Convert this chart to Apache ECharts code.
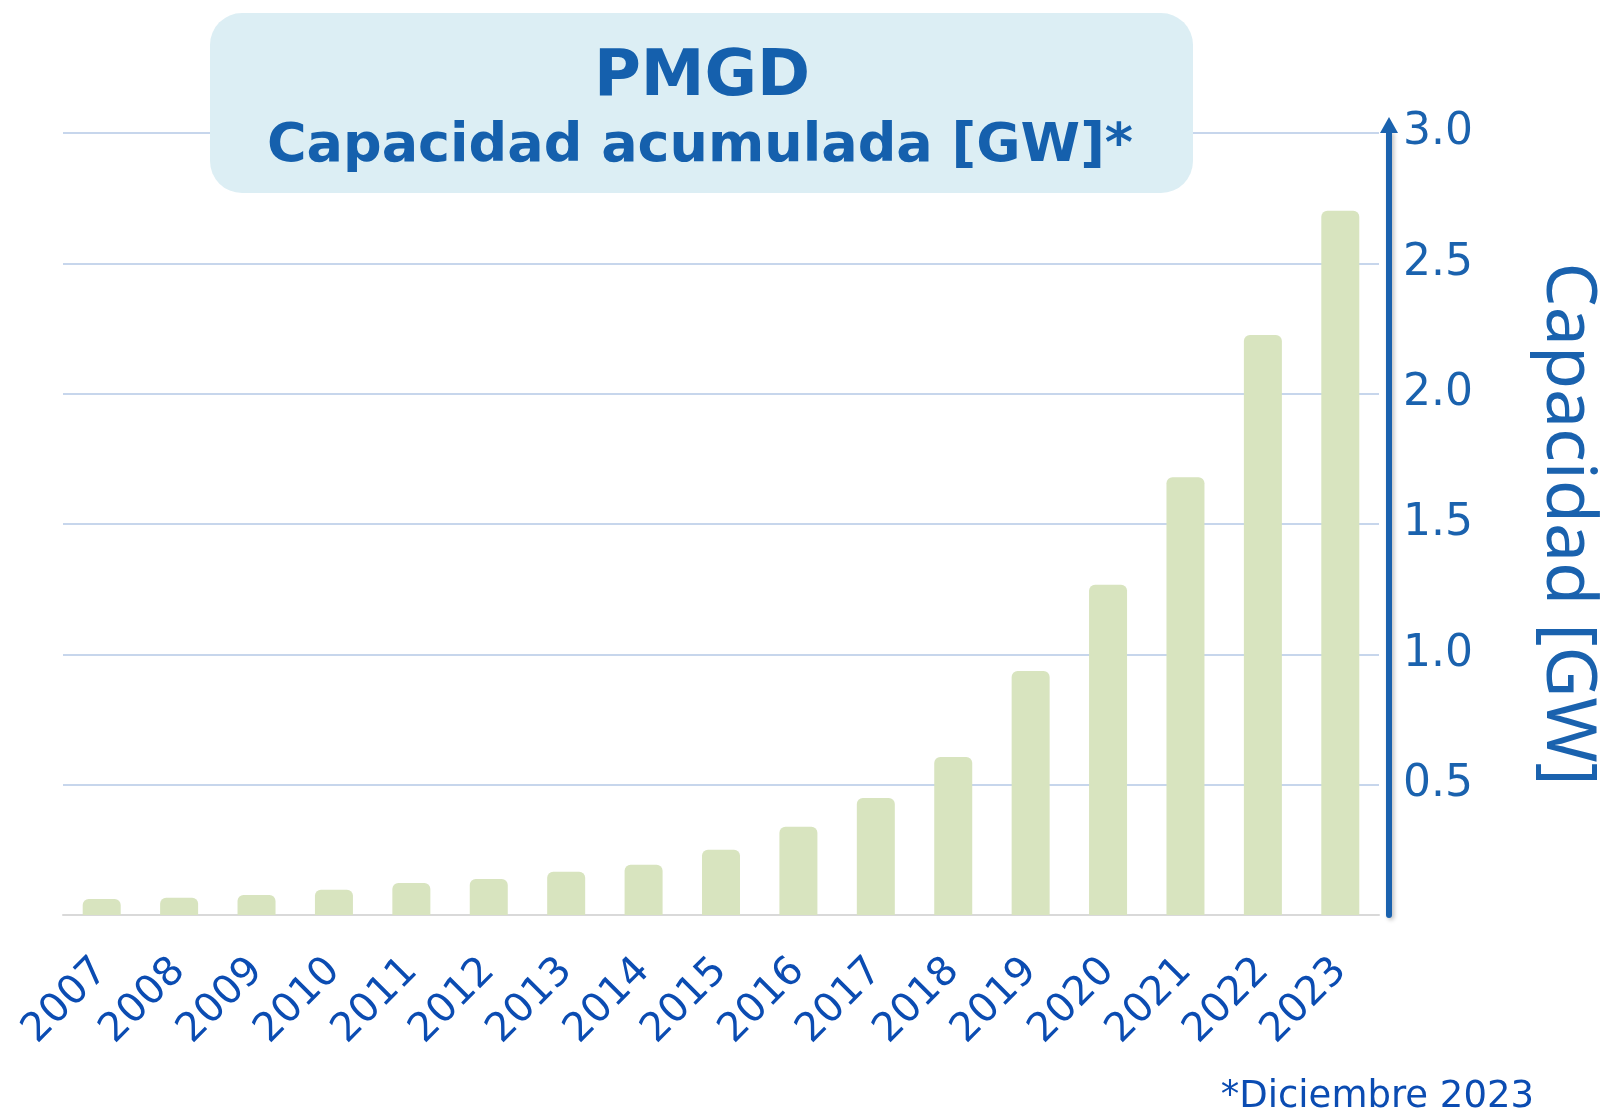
<!DOCTYPE html>
<html>
<head>
<meta charset="utf-8">
<script src="https://cdn.jsdelivr.net/npm/echarts@6/dist/echarts.min.js"></script>
<style>
  html, body { margin: 0; padding: 0; background: #fff; }
  #chart { width: 1606px; height: 1113px; }
</style>
</head>
<body>
<div id="chart"></div>
<script>
// datos: capacidad acumulada PMGD [GW]
const years = ['2007', '2008', '2009', '2010', '2011', '2012', '2013', '2014', '2015',
  '2016', '2017', '2018', '2019', '2020', '2021', '2022', '2023']
const capacity = [0.061, 0.066, 0.077, 0.097, 0.123, 0.138, 0.166, 0.193, 0.250,
  0.339, 0.449, 0.606, 0.936, 1.267, 1.679, 2.225, 2.702]
const yTicks = { min: 0, max: 3, interval: 0.5 }

const blue = '#1a62ae'
const darkBlue = '#0b4cb2'

const chart = echarts.init(document.getElementById('chart'))

chart.setOption({
  backgroundColor: '#fff',
  animation: false,
  grid: { left: 63, right: 227, top: 133, bottom: 198, outerBoundsMode: 'none' },
  graphic: [
    {
      type: 'rect',
      z: 10,
      shape: { x: 210, y: 13, width: 983, height: 180, r: 32 },
      style: { fill: '#dceef4' }
    },
    {
      type: 'text',
      z: 11,
      x: 702,
      y: 78,
      style: {
        text: 'PMGD',
        fill: '#1560ad',
        font: 'bold 64px "DejaVu Sans"',
        textAlign: 'center',
        textVerticalAlign: 'middle'
      }
    },
    {
      type: 'text',
      z: 11,
      x: 700,
      y: 147,
      style: {
        text: 'Capacidad acumulada [GW]*',
        fill: '#1560ad',
        font: 'bold 54px "DejaVu Sans"',
        textAlign: 'center',
        textVerticalAlign: 'middle'
      }
    },
    {
      type: 'text',
      x: 1534,
      y: 1097,
      style: {
        text: '*Diciembre 2023',
        fill: darkBlue,
        font: '37px "DejaVu Sans"',
        textAlign: 'right',
        textVerticalAlign: 'middle'
      }
    }
  ],
  xAxis: {
    type: 'category',
    data: years,
    axisTick: { show: false },
    axisLine: { lineStyle: { color: '#d9d9d9', width: 2 } },
    axisLabel: {
      rotate: 45,
      margin: 50,
      color: darkBlue,
      fontFamily: 'DejaVu Sans',
      fontSize: 40
    }
  },
  yAxis: {
    type: 'value',
    position: 'right',
    offset: 10,
    min: yTicks.min,
    max: yTicks.max,
    interval: yTicks.interval,
    name: 'Capacidad [GW]',
    nameLocation: 'middle',
    nameRotate: -90,
    nameGap: 143,
    nameTextStyle: { color: blue, fontFamily: 'Noto Sans', fontSize: 70 },
    axisLine: {
      show: true,
      symbol: ['none', 'triangle'],
      symbolSize: [18, 16],
      symbolOffset: [0, 8],
      lineStyle: {
        color: blue,
        width: 6,
        shadowColor: 'rgba(0,0,0,0.25)',
        shadowBlur: 4,
        shadowOffsetX: 2,
        shadowOffsetY: 2
      }
    },
    axisTick: { show: false },
    axisLabel: {
      margin: 14,
      color: blue,
      fontFamily: 'DejaVu Sans',
      fontSize: 44,
      formatter: v => (v === 0 ? '' : v.toFixed(1))
    },
    splitLine: { lineStyle: { color: '#c7d6ec', width: 2 } }
  },
  series: [
    {
      type: 'bar',
      data: capacity,
      barWidth: 38,
      itemStyle: { color: '#d8e4bf', borderRadius: [6, 6, 0, 0] }
    }
  ]
})
</script>
</body>
</html>
